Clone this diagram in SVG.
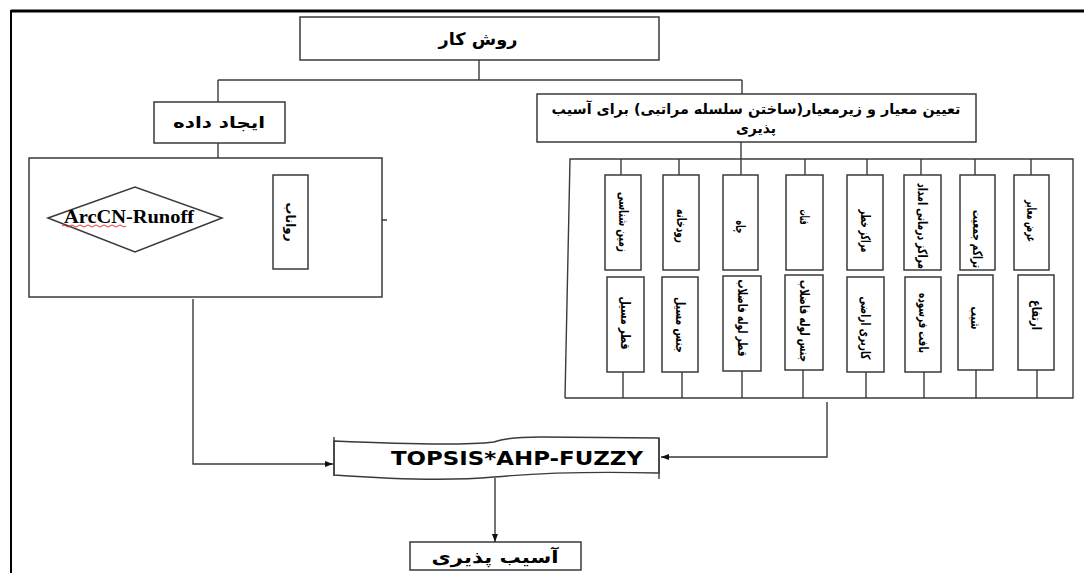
<svg xmlns="http://www.w3.org/2000/svg" width="1084" height="573" viewBox="0 0 1084 573">
<defs>
<marker id="arr" markerWidth="8" markerHeight="6" refX="8" refY="3" orient="auto" markerUnits="userSpaceOnUse">
<path d="M0,0 L8,3 L0,6 Z" fill="#111"/>
</marker>
<style>
.ln{fill:none;stroke:#3a3a3a;stroke-width:1.4}
.bx{fill:#fff;stroke:#3a3a3a;stroke-width:1.5}
.fa{font-family:"DejaVu Sans",sans-serif;fill:#000}
.lb{font-family:"DejaVu Sans",sans-serif;font-weight:bold;font-size:13px;fill:#000;text-anchor:middle;dominant-baseline:central}
</style>
</defs>
<rect width="1084" height="573" fill="#fff"/>
<g id="frame">
<line x1="11" y1="11" x2="1084" y2="11" stroke="#000" stroke-width="3"/>
<line x1="11" y1="10" x2="11" y2="573" stroke="#000" stroke-width="2"/>
</g>
<g id="connectors">
<line class="ln" x1="479" y1="60" x2="479" y2="80"/>
<line class="ln" x1="218" y1="80" x2="742" y2="80"/>
<line class="ln" x1="218" y1="80" x2="218" y2="102"/>
<line class="ln" x1="742" y1="80" x2="742" y2="94"/>
<line class="ln" x1="218" y1="143" x2="218" y2="158"/>
<line class="ln" x1="741" y1="142" x2="741" y2="175"/>
<polyline class="ln" points="565,398 570,159 1073,159 1073,398 565,398"/>
<line class="ln" x1="621" y1="159" x2="621" y2="175"/>
<line class="ln" x1="679" y1="159" x2="679" y2="175"/>
<line class="ln" x1="805" y1="159" x2="805" y2="175"/>
<line class="ln" x1="867" y1="159" x2="867" y2="175"/>
<line class="ln" x1="921" y1="159" x2="921" y2="175"/>
<line class="ln" x1="975" y1="159" x2="975" y2="175"/>
<line class="ln" x1="1031" y1="159" x2="1031" y2="175"/>
<line class="ln" x1="623" y1="372" x2="623" y2="398"/>
<line class="ln" x1="682" y1="372" x2="682" y2="398"/>
<line class="ln" x1="742" y1="371" x2="742" y2="398"/>
<line class="ln" x1="803" y1="370" x2="803" y2="398"/>
<line class="ln" x1="866" y1="372" x2="866" y2="398"/>
<line class="ln" x1="924" y1="372" x2="924" y2="398"/>
<line class="ln" x1="976" y1="370" x2="976" y2="398"/>
<line class="ln" x1="1037" y1="370" x2="1037" y2="398"/>
<line class="ln" x1="387" y1="220" x2="221" y2="220" marker-end="url(#arr)"/>
<polyline class="ln" points="193,299 193,464 333,464" marker-end="url(#arr)"/>
<polyline class="ln" points="827,402 827,457 661,457" marker-end="url(#arr)"/>
<line class="ln" x1="495" y1="478" x2="495" y2="542" marker-end="url(#arr)"/>
</g>
<g id="node-method">
<rect class="bx" x="300" y="17" width="359" height="43"/>
<text class="fa" x="478" y="45" font-size="17" font-weight="bold" text-anchor="middle" textLength="79" lengthAdjust="spacingAndGlyphs">روش کار</text>
</g>
<g id="node-data">
<rect class="bx" x="154" y="102" width="131" height="41"/>
<text class="fa" x="219" y="128" font-size="16" font-weight="bold" text-anchor="middle" textLength="92" lengthAdjust="spacingAndGlyphs">ایجاد داده</text>
</g>
<g id="node-criteria">
<rect class="bx" x="537" y="94" width="439" height="48"/>
<text class="fa" x="756" y="114" font-size="14" font-weight="bold" text-anchor="middle" textLength="409" lengthAdjust="spacingAndGlyphs">تعیین معیار و زیرمعیار(ساختن سلسله مراتبی) برای آسیب</text>
<text class="fa" x="756" y="133" font-size="14" font-weight="bold" text-anchor="middle">پذیری</text>
</g>
<g id="node-data-frame">
<rect class="bx" x="29" y="158" width="353" height="139" fill="none"/>
</g>
<g id="node-runoff">
<rect class="bx" x="273" y="175" width="35" height="94"/>
<text class="lb" transform="translate(290.5,222) rotate(90)" font-size="15" textLength="39" lengthAdjust="spacingAndGlyphs">رواناب</text>
</g>
<g id="node-arccn">
<polygon class="bx" points="48,218 135,187 222,218 135,252"/>
<text x="129" y="223" font-family="Liberation Serif, serif" font-weight="bold" font-size="19" text-anchor="middle" textLength="130" lengthAdjust="spacingAndGlyphs">ArcCN-Runoff</text>
<path d="M62,226 q2,-2 4,0 t4,0 t4,0 t4,0 t4,0 t4,0 t4,0 t4,0 t4,0 t4,0 t4,0 t4,0 t4,0 t4,0 t4,0 t4,0" fill="none" stroke="#e02020" stroke-width="0.9"/>
</g>
<g id="criteria-top">
<rect class="bx" x="605" y="175" width="36" height="95"/><text class="lb" transform="translate(623,222) rotate(90)" textLength="60" lengthAdjust="spacingAndGlyphs">زمین شناسی</text>
<rect class="bx" x="663" y="175" width="36" height="95"/><text class="lb" transform="translate(681,226) rotate(90)" textLength="34" lengthAdjust="spacingAndGlyphs">رودخانه</text>
<rect class="bx" x="723" y="175" width="35" height="95"/><text class="lb" transform="translate(740.5,227) rotate(90)" textLength="13" lengthAdjust="spacingAndGlyphs">چاه</text>
<rect class="bx" x="786" y="175" width="37" height="95"/><text class="lb" transform="translate(804.5,217) rotate(90)" textLength="15" lengthAdjust="spacingAndGlyphs">قنات</text>
<rect class="bx" x="847" y="175" width="36" height="95"/><text class="lb" transform="translate(865,231) rotate(90)" textLength="43" lengthAdjust="spacingAndGlyphs">مراکز خطر</text>
<rect class="bx" x="904" y="175" width="37" height="95"/><text class="lb" transform="translate(922.5,226) rotate(90)" textLength="86" lengthAdjust="spacingAndGlyphs">مراکز درمانی امداد</text>
<rect class="bx" x="960" y="175" width="35" height="95"/><text class="lb" transform="translate(977.5,239) rotate(90)" textLength="58" lengthAdjust="spacingAndGlyphs">تراکم جمعیت</text>
<rect class="bx" x="1014" y="175" width="35" height="95"/><text class="lb" transform="translate(1031.5,221) rotate(90)" textLength="42" lengthAdjust="spacingAndGlyphs">عرض معابر</text>
</g>
<g id="criteria-bottom">
<rect class="bx" x="607" y="277" width="37" height="95"/><text class="lb" transform="translate(625.5,323) rotate(90)" textLength="53" lengthAdjust="spacingAndGlyphs">قطر مسیل</text>
<rect class="bx" x="662" y="277" width="36" height="95"/><text class="lb" transform="translate(680,325) rotate(90)" textLength="56" lengthAdjust="spacingAndGlyphs">جنس مسیل</text>
<rect class="bx" x="723" y="276" width="38" height="95"/><text class="lb" transform="translate(742,318) rotate(90)" textLength="77" lengthAdjust="spacingAndGlyphs">قطر لوله فاضلاب</text>
<rect class="bx" x="785" y="275" width="38" height="95"/><text class="lb" transform="translate(804,321) rotate(90)" textLength="82" lengthAdjust="spacingAndGlyphs">جنس لوله فاضلاب</text>
<rect class="bx" x="847" y="277" width="37" height="95"/><text class="lb" transform="translate(865.5,328) rotate(90)" textLength="63" lengthAdjust="spacingAndGlyphs">کاربری اراضی</text>
<rect class="bx" x="905" y="277" width="36" height="95"/><text class="lb" transform="translate(923,323) rotate(90)" textLength="60" lengthAdjust="spacingAndGlyphs">بافت فرسوده</text>
<rect class="bx" x="958" y="275" width="35" height="95"/><text class="lb" transform="translate(975.5,318) rotate(90)" textLength="23" lengthAdjust="spacingAndGlyphs">شیب</text>
<rect class="bx" x="1018" y="275" width="36" height="95"/><text class="lb" transform="translate(1036,315) rotate(90)" textLength="30" lengthAdjust="spacingAndGlyphs">ارتفاع</text>
</g>
<g id="node-topsis">
<path d="M334,441 C400,444 460,446 494,442 C505,438 520,437 540,437 L659,438 L659,473 C620,472 560,471 494,477 C450,481 390,479 334,475 Z" fill="#fff" stroke="#3a3a3a" stroke-width="1.4"/>
<line class="ln" x1="334" y1="437" x2="334" y2="476"/>
<line class="ln" x1="659" y1="438" x2="659" y2="479"/>
<text x="643" y="465" font-family="DejaVu Sans, sans-serif" font-weight="bold" font-size="20" text-anchor="end" textLength="252" lengthAdjust="spacingAndGlyphs">TOPSIS*AHP-FUZZY</text>
</g>
<g id="node-vulnerability">
<rect class="bx" x="410" y="542" width="171" height="28"/>
<text class="fa" x="495" y="563" font-size="17" font-weight="bold" text-anchor="middle" textLength="127" lengthAdjust="spacingAndGlyphs">آسیب پذیری</text>
</g>
</svg>
